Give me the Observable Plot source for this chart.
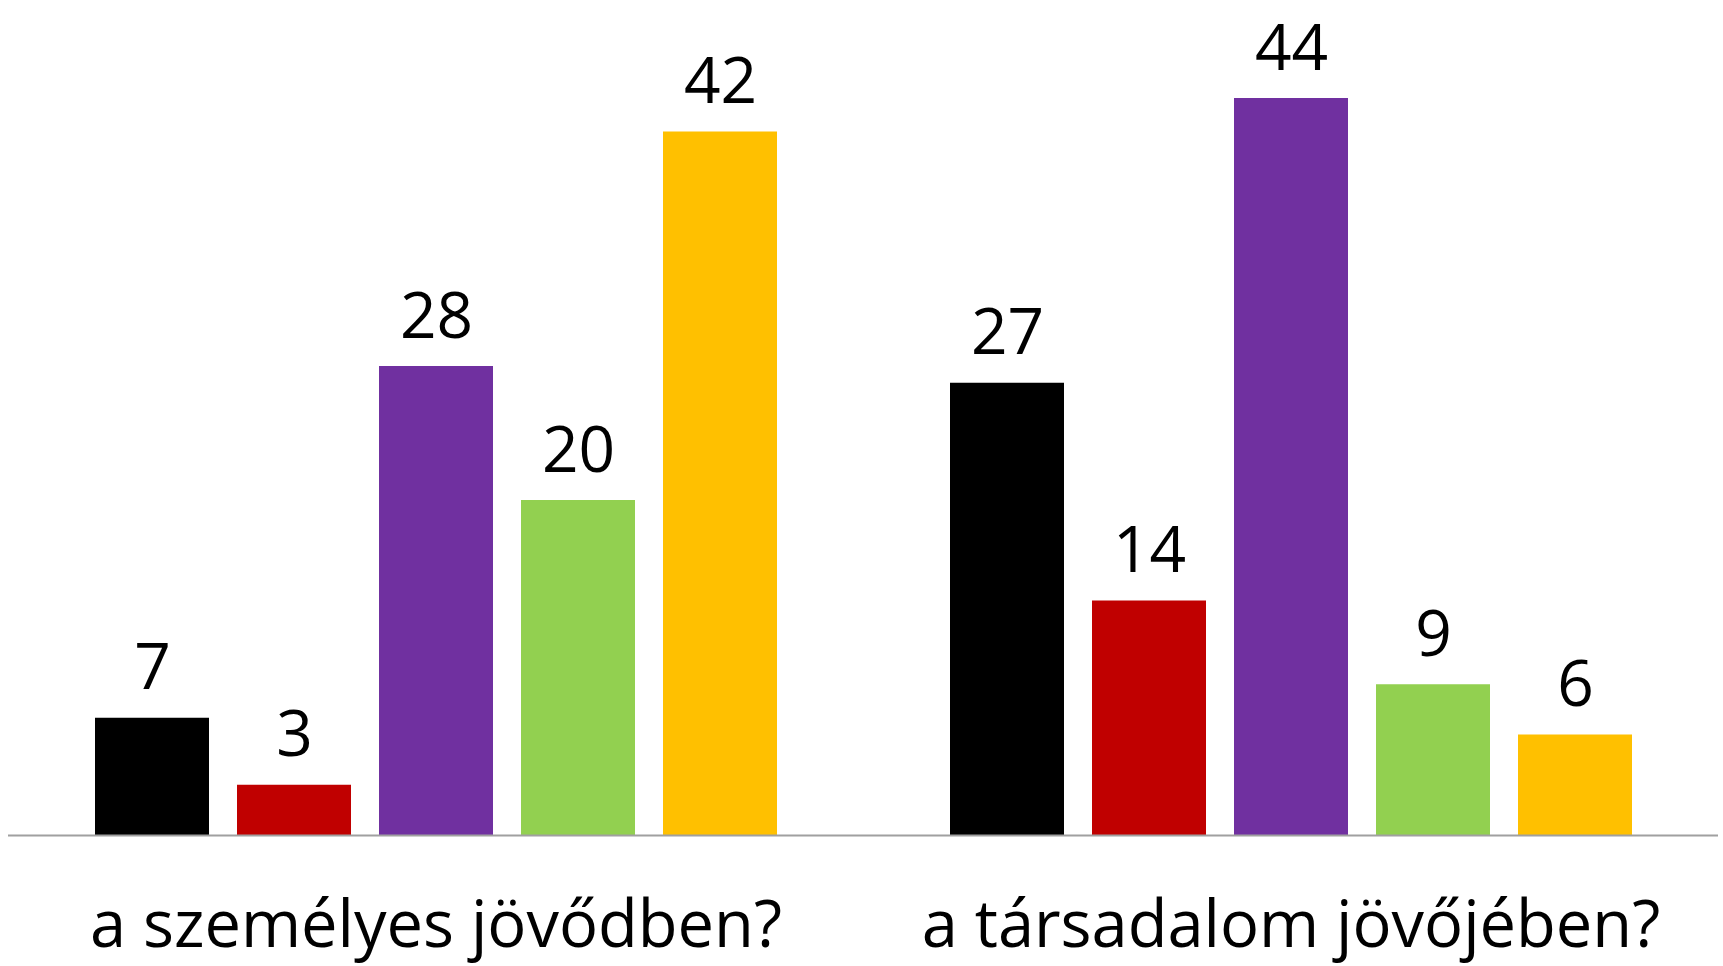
<!DOCTYPE html>
<html>
<head>
<meta charset="utf-8">
<script src="https://cdn.jsdelivr.net/npm/d3@7"></script>
<script src="https://cdn.jsdelivr.net/npm/@observablehq/plot@0.6"></script>
<style>
  html, body { margin: 0; padding: 0; background: #fff; }
  #chart { width: 1723px; height: 966px; overflow: hidden; }
</style>
</head>
<body>
<div id="chart"></div>
<script>
// Data
const groups = ["a személyes jövődben?", "a társadalom jövőjében?"];
const series = ["1", "2", "3", "4", "5"];
const colors = ["#000000", "#C00000", "#7030A0", "#92D050", "#FFC000"];
const personalValues = [7, 3, 28, 20, 42];
const societyValues = [27, 14, 44, 9, 6];

const data = [];
series.forEach((s, i) => data.push({group: groups[0], cat: s, value: personalValues[i]}));
series.forEach((s, i) => data.push({group: groups[1], cat: s, value: societyValues[i]}));

const chart = Plot.plot({
  width: 1723,
  height: 966,
  marginTop: 98,
  marginBottom: 131,
  marginLeft: 7,
  marginRight: 5,
  style: {fontFamily: "'Open Sans', sans-serif", background: "#fff", color: "#000", overflow: "visible"},
  fx: {domain: groups, padding: 0, label: null},
  x: {domain: series, paddingInner: 0.2, paddingOuter: 0.6, axis: null},
  y: {domain: [0, 44], axis: null},
  color: {domain: series, range: colors},
  marks: [
    Plot.barY(data, {fx: "group", x: "cat", y: "value", fill: "cat"}),
    Plot.ruleY([0], {stroke: "#A0A0A0", strokeWidth: 2}),
    Plot.text(data, {fx: "group", x: "cat", y: "value", text: d => String(d.value),
      dy: -29, lineAnchor: "bottom", fontSize: 64, fill: "#000"}),
    Plot.axisFx({anchor: "bottom", tickSize: 0, tickPadding: 65, fontSize: 65, label: null, fill: "#000"})
  ]
});
document.getElementById("chart").appendChild(chart);
</script>
</body>
</html>
